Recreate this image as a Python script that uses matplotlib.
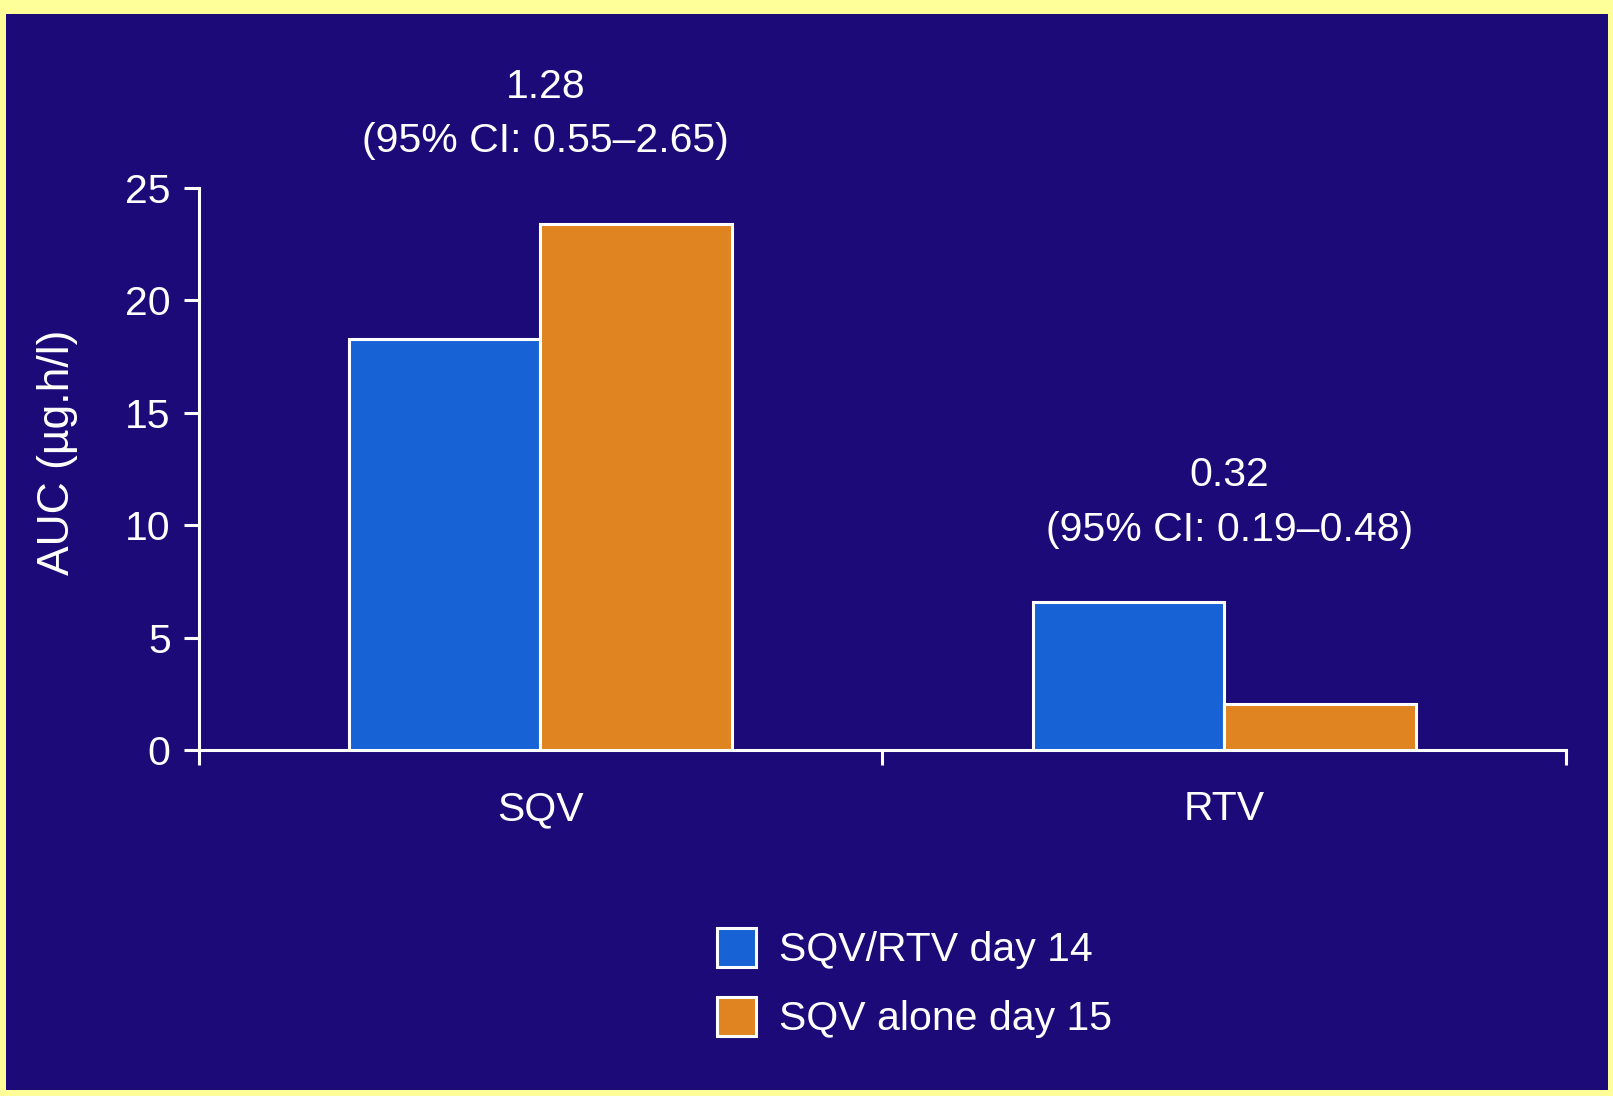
import numpy as np
import matplotlib
matplotlib.use("Agg")
import matplotlib.pyplot as plt
from matplotlib.patches import Rectangle, Patch

plt.rcParams['font.family'] = ['Liberation Sans', 'DejaVu Sans']

drugs = ["SQV", "RTV"]
combo_day14 = [18.3, 6.6]      # SQV/RTV day 14
alone_day15 = [23.4, 2.05]     # SQV alone day 15
series_names = ["SQV/RTV day 14", "SQV alone day 15"]
ratios = ["1.28", "0.32"]
ratio_ci = ["(95% CI: 0.55\u20132.65)", "(95% CI: 0.19\u20130.48)"]
yticks = [0, 5, 10, 15, 20, 25]

# where the ratio notes sit (data units)
note_y = [29.5, 12.25]
ci_y = [27.1, 9.8]

navy = "#1c0a78"
blue = "#1763d6"
orange = "#df8420"
W, H = 1613, 1096

fig = plt.figure(figsize=(W / 100, H / 100), dpi=100, facecolor="#ffff99")
fig.patches.append(Rectangle((6 / W, 1 - 1090 / H), (1608 - 6) / W, (1090 - 14) / H,
                             transform=fig.transFigure, facecolor=navy,
                             edgecolor="none", zorder=-10))

ax = fig.add_axes([198.5 / W, 1 - 750 / H, (1566 - 198.5) / W, (750 - 188) / H])
ax.set_facecolor("none")

x = np.arange(len(drugs))
bw = 0.28
ax.bar(x - bw / 2, combo_day14, bw, color=blue, edgecolor="white", linewidth=2.2, zorder=3)
ax.bar(x + bw / 2, alone_day15, bw, color=orange, edgecolor="white", linewidth=2.2, zorder=3)

ax.set_xlim(-0.5, 1.5)
ax.set_ylim(0, 25)

for s in ["top", "right"]:
    ax.spines[s].set_visible(False)
for s in ["left", "bottom"]:
    ax.spines[s].set_color("white")
    ax.spines[s].set_linewidth(2.2)

ax.set_yticks(yticks)
ax.tick_params(axis="y", colors="white", labelsize=29.5, length=11, width=2.2, pad=9)
ax.set_xticks(x)
ax.set_xticklabels(drugs)
ax.tick_params(axis="x", colors="white", labelsize=29.5, length=0, pad=29)
ax.set_xticks([-0.5, 0.5, 1.5], minor=True)
ax.tick_params(axis="x", which="minor", colors="white", length=11, width=2.2, direction="out")

ax.set_ylabel("AUC (\u00b5g.h/l)", color="white", fontsize=32)
ax.yaxis.set_label_coords(-0.088, 0.529)

# ratio annotations above each group
for xi, ny, cy, r, ci in zip(x, note_y, ci_y, ratios, ratio_ci):
    ax.text(xi + 0.008, ny, r, ha="center", va="center", color="white",
            fontsize=29.5, clip_on=False)
    ax.text(xi + 0.008, cy, ci, ha="center", va="center", color="white",
            fontsize=29.5, clip_on=False)

handles = [Patch(facecolor=blue, edgecolor="white", linewidth=2.2),
           Patch(facecolor=orange, edgecolor="white", linewidth=2.2)]
leg = fig.legend(handles, series_names, loc="upper left",
                 bbox_to_anchor=(717 / W, 1 - 928 / H), frameon=False,
                 fontsize=29.5, handlelength=0.95, handleheight=1.07,
                 handletextpad=0.56, labelspacing=0.68, borderpad=0, borderaxespad=0)
for t in leg.get_texts():
    t.set_color("white")

fig.savefig("out.png", dpi=100, facecolor=fig.get_facecolor())
